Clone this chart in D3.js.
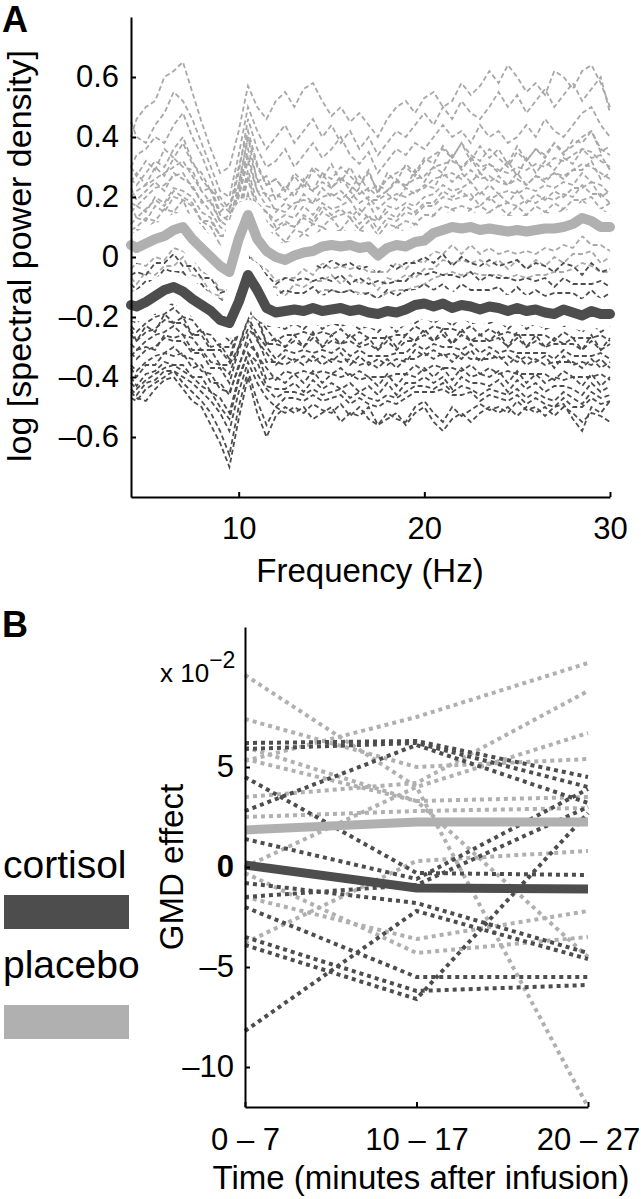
<!DOCTYPE html>
<html>
<head>
<meta charset="utf-8">
<script src="https://cdn.jsdelivr.net/npm/d3@7"></script>
<style>
  body { margin: 0; background: #fff; }
  svg { display: block; }
  text { font-family: "Liberation Sans", Arial, Helvetica, sans-serif; fill: #000; }
</style>
</head>
<body>
<svg id="fig" width="641" height="1199"></svg>
<script>
// ---- Panel A data: log spectral power, sampled every half Hz ----
var freqs = [4.2,4.5,5,5.5,6,6.5,7,7.5,8,8.5,9,9.5,10,10.5,11,11.5,12,12.5,13,13.5,14,14.5,15,15.5,16,16.5,17,17.5,18,18.5,19,19.5,20,20.5,21,21.5,22,22.5,23,23.5,24,24.5,25,25.5,26,26.5,27,27.5,28,28.5,29,29.5,30];

// one row per electrode trace
var placeboTraces = [
  [.40,.46,.50,.52,.60,.62,.65,.55,.45,.36,.28,.30,.42,.57,.50,.46,.52,.55,.50,.56,.58,.52,.47,.50,.45,.48,.44,.40,.46,.50,.52,.48,.53,.55,.50,.52,.58,.54,.57,.62,.58,.64,.60,.55,.58,.54,.62,.60,.56,.62,.64,.58,.50],
  [.45,.40,.38,.44,.48,.55,.52,.46,.38,.30,.22,.20,.34,.50,.42,.36,.40,.44,.38,.42,.46,.40,.44,.38,.42,.36,.40,.34,.38,.42,.40,.44,.48,.44,.50,.46,.52,.48,.46,.50,.55,.50,.54,.48,.52,.56,.50,.54,.58,.52,.56,.60,.48],
  [.30,.34,.36,.40,.38,.44,.48,.40,.34,.26,.18,.15,.28,.46,.36,.30,.32,.36,.30,.34,.38,.33,.36,.40,.34,.31,.35,.28,.32,.36,.34,.38,.36,.40,.44,.40,.42,.38,.44,.40,.42,.38,.40,.44,.40,.46,.42,.40,.44,.48,.50,.44,.40],
  [.30,.27,.32,.29,.36,.33,.38,.31,.28,.22,.20,.16,.30,.42,.31,.24,.26,.22,.27,.23,.29,.26,.31,.25,.30,.24,.29,.21,.28,.25,.31,.28,.33,.31,.37,.33,.38,.32,.37,.33,.36,.31,.37,.32,.36,.33,.38,.34,.39,.38,.42,.35,.37],
  [.26,.24,.28,.32,.30,.36,.40,.32,.26,.22,.14,.12,.24,.40,.30,.24,.26,.22,.28,.25,.30,.28,.26,.30,.27,.24,.28,.22,.26,.28,.30,.27,.32,.34,.36,.33,.38,.34,.32,.36,.33,.30,.35,.32,.36,.34,.38,.35,.37,.40,.42,.36,.34],
  [.25,.28,.24,.30,.27,.33,.30,.29,.22,.23,.15,.18,.24,.40,.25,.27,.19,.24,.20,.26,.22,.28,.23,.27,.22,.27,.22,.24,.22,.26,.23,.29,.25,.30,.28,.34,.29,.33,.28,.31,.28,.32,.27,.33,.28,.32,.29,.33,.31,.36,.33,.34,.29],
  [.20,.22,.24,.26,.28,.30,.32,.27,.22,.18,.12,.10,.22,.36,.26,.20,.21,.19,.22,.24,.22,.25,.23,.26,.24,.21,.23,.20,.22,.25,.24,.26,.27,.30,.31,.32,.30,.33,.30,.31,.29,.28,.30,.29,.31,.30,.33,.32,.34,.36,.35,.32,.30],
  [.23,.19,.22,.25,.22,.28,.26,.24,.18,.19,.12,.14,.21,.34,.22,.21,.15,.18,.16,.21,.18,.23,.20,.22,.19,.23,.19,.19,.21,.19,.23,.21,.24,.23,.28,.25,.28,.25,.28,.25,.27,.24,.28,.24,.27,.25,.28,.26,.29,.29,.32,.26,.28],
  [.18,.17,.20,.23,.24,.27,.28,.23,.19,.15,.10,.08,.20,.32,.22,.17,.16,.15,.18,.19,.18,.20,.21,.19,.22,.18,.20,.16,.19,.21,.20,.22,.23,.26,.27,.28,.26,.29,.26,.27,.25,.24,.26,.24,.27,.26,.28,.27,.29,.31,.30,.28,.26],
  [.15,.17,.15,.20,.18,.23,.22,.20,.15,.13,.07,.07,.16,.29,.18,.15,.12,.14,.13,.17,.14,.18,.16,.17,.19,.14,.18,.12,.17,.16,.18,.17,.20,.21,.24,.22,.23,.25,.21,.24,.21,.22,.21,.23,.22,.24,.23,.25,.24,.28,.25,.24,.21],
  [.17,.13,.16,.19,.17,.22,.20,.18,.12,.12,.07,.08,.15,.27,.16,.15,.10,.12,.10,.14,.12,.17,.14,.16,.13,.16,.13,.12,.15,.13,.17,.15,.18,.18,.22,.20,.22,.19,.22,.19,.21,.18,.22,.18,.21,.19,.22,.20,.23,.23,.25,.20,.22],
  [.11,.13,.12,.17,.15,.20,.19,.17,.12,.10,.04,.04,.13,.26,.15,.12,.09,.11,.10,.13,.11,.15,.13,.14,.15,.11,.14,.09,.13,.12,.15,.14,.17,.17,.20,.19,.20,.21,.17,.20,.17,.18,.17,.19,.18,.20,.19,.21,.20,.24,.21,.21,.18],
  [.09,.10,.13,.12,.16,.15,.19,.12,.11,.06,.04,.00,.13,.21,.14,.08,.08,.05,.09,.08,.11,.10,.13,.09,.13,.09,.12,.07,.11,.10,.12,.11,.14,.14,.17,.16,.17,.16,.17,.15,.17,.14,.17,.14,.17,.15,.18,.16,.19,.19,.20,.16,.18],
  [.07,.09,.09,.12,.11,.15,.14,.12,.07,.06,.01,.01,.09,.21,.10,.08,.04,.05,.05,.08,.06,.10,.08,.09,.08,.09,.08,.07,.07,.10,.08,.11,.10,.14,.13,.16,.13,.16,.13,.15,.13,.14,.13,.14,.13,.15,.14,.16,.15,.19,.16,.16,.14],
  [.06,.05,.08,.08,.11,.11,.14,.08,.07,.02,.01,-.03,.09,.16,.10,.04,.04,.01,.05,.04,.06,.06,.08,.05,.08,.05,.07,.03,.07,.06,.08,.07,.10,.10,.13,.12,.13,.12,.13,.11,.13,.10,.13,.10,.13,.11,.14,.12,.15,.15,.16,.12,.14],
  [.00,.01,.03,.02,.05,.05,.08,.02,.01,-.04,-.05,-.09,.04,.10,.04,-.02,-.02,-.05,-.01,-.02,.00,.00,.02,-.01,.02,-.01,.01,-.03,.01,.00,.02,.01,.04,.04,.07,.06,.07,.06,.07,.05,.07,.04,.07,.04,.07,.05,.08,.06,.09,.09,.10,.06,.08],
  [-.04,-.02,-.03,.00,-.01,.03,.02,.00,-.05,-.06,-.11,-.11,-.02,.08,-.02,-.04,-.08,-.07,-.07,-.04,-.06,-.02,-.04,-.03,-.04,-.03,-.05,-.05,-.05,-.02,-.04,-.01,-.02,.02,.01,.04,.01,.04,.01,.03,.01,.02,.01,.02,.01,.03,.02,.04,.03,.07,.04,.04,.02],
  [-.07,-.09,-.05,-.06,-.03,-.03,.00,-.06,-.07,-.12,-.13,-.17,-.04,.02,-.04,-.10,-.10,-.13,-.09,-.10,-.08,-.08,-.06,-.09,-.06,-.09,-.07,-.11,-.07,-.08,-.06,-.07,-.04,-.04,-.01,-.02,-.01,-.02,-.01,-.03,-.01,-.04,-.01,-.04,-.01,-.03,.00,-.02,.01,.01,.02,-.02,.00],
  [-.11,-.12,-.10,-.09,-.08,-.06,-.05,-.09,-.12,-.15,-.18,-.20,-.15,-.22,-.18,-.14,-.15,-.16,-.14,-.13,-.13,-.11,-.11,-.12,-.11,-.12,-.12,-.14,-.12,-.11,-.11,-.10,-.09,-.07,-.06,-.05,-.06,-.05,-.06,-.06,-.06,-.07,-.06,-.07,-.06,-.06,-.05,-.05,-.04,-.02,-.03,-.05,-.05]
];

var cortisolTraces = [
  [.00,-.02,.01,.03,.04,.06,.03,.02,-.01,-.02,-.06,-.06,.00,.09,.04,-.02,-.03,-.02,-.03,-.01,-.02,-.04,-.01,-.03,-.02,-.04,-.03,-.05,-.02,-.04,-.02,-.02,.00,-.02,.01,-.03,.00,-.02,-.03,-.01,-.03,-.02,-.01,-.04,-.02,-.03,-.05,-.02,-.03,-.06,-.02,-.05,-.04],
  [-.06,-.05,-.06,-.02,-.02,.01,-.03,-.03,-.07,-.07,-.12,-.11,-.05,.05,-.02,-.06,-.09,-.07,-.08,-.07,-.08,-.07,-.08,-.06,-.09,-.07,-.09,-.08,-.09,-.08,-.08,-.05,-.06,-.05,-.06,-.06,-.07,-.05,-.08,-.06,-.07,-.07,-.08,-.07,-.08,-.07,-.10,-.07,-.09,-.09,-.09,-.08,-.10],
  [-.09,-.11,-.08,-.08,-.04,-.05,-.05,-.09,-.09,-.13,-.14,-.17,-.08,.01,-.06,-.10,-.13,-.11,-.12,-.12,-.10,-.13,-.11,-.12,-.11,-.13,-.12,-.14,-.11,-.13,-.11,-.11,-.09,-.11,-.09,-.12,-.09,-.11,-.11,-.11,-.10,-.13,-.10,-.13,-.11,-.13,-.12,-.12,-.12,-.14,-.11,-.14,-.12],
  [-.13,-.12,-.13,-.09,-.09,-.06,-.09,-.10,-.14,-.14,-.19,-.18,-.12,-.03,-.08,-.14,-.15,-.16,-.14,-.16,-.13,-.15,-.14,-.13,-.16,-.14,-.15,-.17,-.15,-.15,-.15,-.12,-.13,-.13,-.12,-.14,-.13,-.13,-.15,-.13,-.15,-.14,-.15,-.15,-.14,-.16,-.16,-.15,-.15,-.17,-.15,-.16,-.16],
  [-.21,-.22,-.19,-.19,-.15,-.16,-.16,-.20,-.20,-.24,-.25,-.28,-.19,-.12,-.15,-.23,-.23,-.24,-.22,-.24,-.21,-.24,-.22,-.23,-.22,-.24,-.23,-.25,-.22,-.25,-.22,-.22,-.20,-.22,-.20,-.23,-.20,-.22,-.22,-.22,-.21,-.24,-.21,-.24,-.22,-.24,-.23,-.23,-.23,-.25,-.22,-.25,-.23],
  [-.23,-.25,-.22,-.20,-.19,-.17,-.20,-.21,-.25,-.26,-.30,-.30,-.24,-.14,-.20,-.24,-.28,-.26,-.26,-.25,-.26,-.25,-.26,-.24,-.27,-.25,-.27,-.27,-.27,-.26,-.26,-.23,-.25,-.23,-.24,-.24,-.25,-.23,-.26,-.24,-.26,-.25,-.26,-.26,-.26,-.26,-.28,-.25,-.27,-.27,-.27,-.26,-.28],
  [-.24,-.28,-.23,-.25,-.19,-.22,-.20,-.26,-.24,-.30,-.29,-.34,-.23,-.18,-.19,-.29,-.27,-.30,-.26,-.30,-.25,-.30,-.26,-.29,-.26,-.29,-.27,-.31,-.26,-.30,-.26,-.28,-.24,-.28,-.24,-.29,-.24,-.28,-.26,-.28,-.25,-.30,-.25,-.30,-.26,-.30,-.27,-.29,-.27,-.31,-.26,-.31,-.27],
  [-.26,-.28,-.25,-.24,-.21,-.22,-.22,-.26,-.26,-.31,-.31,-.35,-.25,-.18,-.21,-.29,-.29,-.30,-.28,-.30,-.27,-.30,-.28,-.29,-.28,-.30,-.29,-.31,-.28,-.31,-.28,-.28,-.26,-.28,-.26,-.29,-.26,-.28,-.28,-.28,-.27,-.30,-.27,-.30,-.28,-.30,-.29,-.29,-.29,-.31,-.28,-.31,-.29],
  [-.29,-.31,-.28,-.26,-.25,-.23,-.26,-.27,-.31,-.31,-.36,-.36,-.30,-.20,-.26,-.30,-.34,-.31,-.32,-.31,-.32,-.31,-.32,-.30,-.33,-.31,-.33,-.33,-.33,-.32,-.32,-.29,-.31,-.29,-.30,-.30,-.31,-.29,-.32,-.30,-.32,-.31,-.32,-.32,-.32,-.32,-.34,-.31,-.33,-.33,-.33,-.32,-.34],
  [-.33,-.31,-.30,-.31,-.26,-.27,-.26,-.31,-.31,-.35,-.36,-.39,-.30,-.21,-.28,-.32,-.36,-.33,-.35,-.33,-.35,-.33,-.35,-.32,-.36,-.33,-.36,-.34,-.36,-.34,-.35,-.31,-.33,-.31,-.33,-.32,-.34,-.31,-.35,-.32,-.34,-.33,-.35,-.33,-.35,-.33,-.37,-.33,-.36,-.35,-.36,-.34,-.37],
  [-.32,-.34,-.31,-.30,-.27,-.28,-.28,-.32,-.32,-.37,-.37,-.42,-.31,-.24,-.27,-.35,-.35,-.36,-.34,-.36,-.33,-.36,-.34,-.35,-.34,-.36,-.35,-.37,-.34,-.37,-.34,-.34,-.32,-.34,-.32,-.35,-.32,-.34,-.34,-.34,-.33,-.36,-.33,-.36,-.34,-.36,-.35,-.35,-.35,-.37,-.34,-.37,-.35],
  [-.36,-.38,-.35,-.33,-.32,-.30,-.33,-.34,-.38,-.39,-.44,-.45,-.37,-.26,-.33,-.37,-.41,-.38,-.39,-.38,-.39,-.38,-.39,-.37,-.40,-.38,-.40,-.40,-.40,-.39,-.39,-.36,-.38,-.36,-.37,-.37,-.38,-.36,-.39,-.37,-.39,-.38,-.39,-.39,-.39,-.39,-.41,-.38,-.40,-.40,-.40,-.39,-.41],
  [-.37,-.40,-.36,-.36,-.32,-.33,-.32,-.37,-.36,-.42,-.42,-.46,-.36,-.29,-.32,-.41,-.40,-.42,-.39,-.42,-.38,-.42,-.39,-.40,-.39,-.41,-.40,-.43,-.39,-.43,-.39,-.40,-.37,-.40,-.37,-.41,-.37,-.40,-.39,-.40,-.38,-.42,-.38,-.42,-.39,-.42,-.40,-.41,-.40,-.43,-.39,-.43,-.40],
  [-.40,-.43,-.39,-.38,-.35,-.36,-.36,-.40,-.40,-.45,-.47,-.52,-.40,-.32,-.35,-.43,-.44,-.44,-.42,-.45,-.41,-.44,-.42,-.44,-.42,-.45,-.43,-.46,-.42,-.46,-.42,-.42,-.40,-.42,-.40,-.44,-.40,-.42,-.42,-.43,-.41,-.45,-.41,-.44,-.42,-.45,-.43,-.43,-.44,-.46,-.42,-.45,-.43],
  [-.42,-.44,-.41,-.39,-.37,-.36,-.38,-.40,-.43,-.45,-.50,-.54,-.41,-.32,-.39,-.44,-.47,-.45,-.45,-.46,-.44,-.46,-.45,-.44,-.47,-.45,-.47,-.48,-.46,-.47,-.45,-.43,-.43,-.44,-.42,-.45,-.43,-.44,-.46,-.44,-.45,-.46,-.44,-.47,-.45,-.47,-.48,-.45,-.47,-.49,-.45,-.47,-.46],
  [-.44,-.46,-.42,-.41,-.38,-.38,-.40,-.42,-.45,-.48,-.52,-.58,-.45,-.35,-.42,-.47,-.50,-.47,-.47,-.48,-.46,-.48,-.47,-.46,-.49,-.47,-.49,-.50,-.48,-.49,-.47,-.45,-.45,-.45,-.44,-.46,-.46,-.45,-.48,-.46,-.47,-.48,-.46,-.49,-.47,-.49,-.50,-.47,-.50,-.50,-.47,-.49,-.48],
  [-.47,-.48,-.44,-.42,-.40,-.38,-.42,-.45,-.48,-.52,-.58,-.66,-.50,-.38,-.48,-.56,-.50,-.52,-.50,-.52,-.49,-.51,-.52,-.49,-.53,-.50,-.54,-.56,-.52,-.54,-.55,-.50,-.48,-.52,-.55,-.50,-.53,-.51,-.49,-.51,-.50,-.52,-.48,-.51,-.50,-.53,-.50,-.49,-.54,-.58,-.50,-.52,-.48],
  [-.45,-.47,-.48,-.44,-.41,-.40,-.44,-.48,-.50,-.56,-.62,-.70,-.54,-.40,-.52,-.60,-.53,-.50,-.52,-.50,-.54,-.52,-.50,-.55,-.52,-.53,-.50,-.56,-.54,-.52,-.56,-.52,-.50,-.55,-.58,-.54,-.52,-.55,-.52,-.50,-.52,-.50,-.53,-.50,-.52,-.50,-.53,-.50,-.52,-.55,-.52,-.53,-.55]
];

// group means
var placeboMean = [.04,.03,.045,.06,.07,.09,.10,.06,.03,.00,-.03,-.05,.06,.14,.06,.02,.00,-.01,.005,.015,.02,.035,.04,.035,.04,.03,.035,.005,.03,.04,.035,.05,.055,.08,.09,.10,.095,.10,.09,.095,.09,.085,.09,.085,.09,.095,.095,.10,.11,.13,.12,.10,.10];
var cortisolMean = [-.16,-.165,-.15,-.13,-.11,-.10,-.115,-.14,-.16,-.18,-.21,-.22,-.15,-.06,-.11,-.17,-.185,-.18,-.175,-.18,-.17,-.18,-.175,-.17,-.18,-.175,-.185,-.19,-.18,-.185,-.175,-.16,-.155,-.165,-.155,-.17,-.16,-.165,-.175,-.165,-.17,-.18,-.17,-.18,-.175,-.185,-.19,-.175,-.185,-.195,-.18,-.19,-.19];

var freqTicks = [10, 20, 30];
var powerTicks = [-0.6, -0.4, -0.2, 0, 0.2, 0.4, 0.6];

// ---- Panel B data: GMD effect (x 10^-2) per subject ----
var timeLabels = ["0 \u2013 7", "10 \u2013 17", "20 \u2013 27"];
var placeboSubjects = [
  [9.6, 4.0, -12.0], [5.3, 7.5, 10.2], [3.5, 4.2, 8.8], [0.0, 4.0, 6.7],
  [7.4, 5.0, 5.4], [5.4, 3.3, 3.5], [2.5, 2.8, 2.95], [6.0, 3.3, -4.5],
  [-0.3, -4.3, -3.5], [-1.5, -3.6, -2.2], [-3.8, 0.3, 0.8]
];
var cortisolSubjects = [
  [6.2, 6.3, 4.5], [5.9, 6.2, 4.0], [2.8, 6.1, 3.2], [4.5, -0.3, -0.4],
  [-2.0, -5.5, -5.5], [-3.5, -6.2, -5.9], [-3.9, -6.6, 2.7], [-8.2, -2.2, -4.6],
  [-0.8, -1.8, -4.3], [1.4, -0.6, 3.9], [-1.5, -0.9, 3.0]
];
var placeboGroup = [1.85, 2.25, 2.25];
var cortisolGroup = [0.1, -1.05, -1.1];
var gmdTicks = [-10, -5, 0, 5];

var DARK = "#4d4d4d", LIGHT = "#b0b0b0", LIGHT_TRACE = "#a8a8a8";
var FONT = "'Liberation Sans', Arial, Helvetica, sans-serif";

var svg = d3.select("#fig");

function styleAxis(g, size){
    g.attr("font-family", FONT).attr("font-size", size);
    g.selectAll("path, line").attr("stroke", "#000").attr("stroke-width", 2);
    g.selectAll("text").attr("fill", "#000");
}

function dash(v){ return v < 0 ? "\u2013" + Math.abs(v) : String(v); }

// ===================== Panel A =====================
var xA = d3.scaleLinear().domain([4.2, 30]).range([131, 610]);
var yA = d3.scaleLinear().domain([-0.8, 0.8]).range([497, 17]);

var specLine = d3.line()
    .x(function(d, i){ return xA(freqs[i]); })
    .y(function(d){ return yA(d); });

var gA = svg.append("g");

gA.selectAll("path.ptrace").data(placeboTraces).enter().append("path")
    .attr("class", "ptrace")
    .attr("d", specLine)
    .attr("fill", "none").attr("stroke", LIGHT_TRACE)
    .attr("stroke-width", 1.8).attr("stroke-dasharray", "5,3");

gA.selectAll("path.ctrace").data(cortisolTraces).enter().append("path")
    .attr("class", "ctrace")
    .attr("d", specLine)
    .attr("fill", "none").attr("stroke", DARK)
    .attr("stroke-width", 1.8).attr("stroke-dasharray", "5,3");

// white halos under the two group means
[placeboMean, cortisolMean].forEach(function(m){
    gA.append("path").attr("d", specLine(m))
        .attr("fill", "none").attr("stroke", "#fff")
        .attr("stroke-width", 30).attr("stroke-linejoin", "round");
});
gA.append("path").attr("d", specLine(placeboMean))
    .attr("fill", "none").attr("stroke", LIGHT)
    .attr("stroke-width", 10).attr("stroke-linejoin", "round").attr("stroke-linecap", "round");
gA.append("path").attr("d", specLine(cortisolMean))
    .attr("fill", "none").attr("stroke", DARK)
    .attr("stroke-width", 10).attr("stroke-linejoin", "round").attr("stroke-linecap", "round");

var axA_x = gA.append("g").attr("transform", "translate(0,497)")
    .call(d3.axisBottom(xA).tickValues(freqTicks).tickSizeInner(-5).tickSizeOuter(0).tickPadding(20));
styleAxis(axA_x, 31);

var axA_y = gA.append("g").attr("transform", "translate(131,0)")
    .call(d3.axisLeft(yA).tickValues(powerTicks).tickSizeInner(-5).tickSizeOuter(0).tickPadding(12)
        .tickFormat(function(d){ return d === 0 ? "0" : (d < 0 ? "\u2013" : "") + Math.abs(d).toFixed(1); }));
styleAxis(axA_y, 31);

gA.append("text").attr("x", 370).attr("y", 582).attr("text-anchor", "middle")
    .attr("font-size", 33).text("Frequency (Hz)");
gA.append("text").attr("transform", "translate(31,256) rotate(-90)").attr("text-anchor", "middle")
    .attr("font-size", 34).text("log [spectral power density]");
gA.append("text").attr("x", 2).attr("y", 32).attr("font-size", 36).attr("font-weight", "bold").text("A");

// ===================== Panel B =====================
var xB = d3.scalePoint().domain(timeLabels).range([245, 588]);
var yB = d3.scaleLinear().domain([-12, 12]).range([1107, 627]);

var subjLine = d3.line()
    .x(function(d, i){ return xB(timeLabels[i]); })
    .y(function(d){ return yB(d); });

var gB = svg.append("g");

gB.selectAll("path.psub").data(placeboSubjects).enter().append("path")
    .attr("class", "psub").attr("d", subjLine)
    .attr("fill", "none").attr("stroke", LIGHT)
    .attr("stroke-width", 4).attr("stroke-dasharray", "4,4");
gB.selectAll("path.csub").data(cortisolSubjects).enter().append("path")
    .attr("class", "csub").attr("d", subjLine)
    .attr("fill", "none").attr("stroke", DARK)
    .attr("stroke-width", 4).attr("stroke-dasharray", "4,4");

gB.append("path").attr("d", subjLine(placeboGroup))
    .attr("fill", "none").attr("stroke", LIGHT).attr("stroke-width", 9);
gB.append("path").attr("d", subjLine(cortisolGroup))
    .attr("fill", "none").attr("stroke", DARK).attr("stroke-width", 9);

var axB_x = gB.append("g").attr("transform", "translate(0,1107)")
    .call(d3.axisBottom(xB).tickSizeInner(-5).tickSizeOuter(0).tickPadding(21));
styleAxis(axB_x, 31);

var axB_y = gB.append("g").attr("transform", "translate(245,0)")
    .call(d3.axisLeft(yB).tickValues(gmdTicks).tickSizeInner(-5).tickSizeOuter(0).tickPadding(11)
        .tickFormat(dash));
styleAxis(axB_y, 31);
axB_y.selectAll(".tick text").filter(function(d){ return d === 0; }).attr("font-weight", "bold");

// exponent label
var expo = gB.append("text").attr("x", 160).attr("y", 682).attr("font-size", 26);
expo.append("tspan").text("x 10");
expo.append("tspan").attr("font-size", 23).attr("dy", -14).text("\u22122");

gB.append("text").attr("x", 421).attr("y", 1189).attr("text-anchor", "middle")
    .attr("font-size", 33).text("Time (minutes after infusion)");
gB.append("text").attr("transform", "translate(183,867) rotate(-90)").attr("text-anchor", "middle")
    .attr("font-size", 33).text("GMD effect");
gB.append("text").attr("x", 2).attr("y", 637).attr("font-size", 36).attr("font-weight", "bold").text("B");

// legend
var legend = [
    {name: "cortisol", color: DARK, ty: 878, ry: 895},
    {name: "placebo", color: LIGHT, ty: 978, ry: 1005}
];
legend.forEach(function(l){
    gB.append("text").attr("x", 3).attr("y", l.ty).attr("font-size", 39).text(l.name);
    gB.append("rect").attr("x", 4).attr("y", l.ry).attr("width", 125).attr("height", 34).attr("fill", l.color);
});
</script>
</body>
</html>
